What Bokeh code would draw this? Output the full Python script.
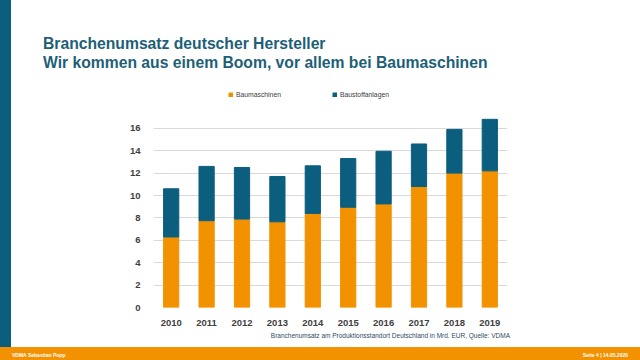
from bokeh.plotting import figure
from bokeh.models import ColumnDataSource, Range1d, FactorRange, Div
from bokeh.layouts import column, row
from bokeh.embed import file_html
from bokeh.resources import INLINE

years = ["2010", "2011", "2012", "2013", "2014", "2015", "2016", "2017", "2018", "2019"]
baumaschinen = [6.3, 7.75, 7.9, 7.65, 8.4, 8.95, 9.25, 10.8, 12.0, 12.2]
baustoffanlagen = [4.3, 4.85, 4.6, 4.05, 4.25, 4.35, 4.7, 3.8, 3.9, 4.6]
series = ["Baumaschinen", "Baustoffanlagen"]
y_ticks = [0, 2, 4, 6, 8, 10, 12, 14, 16]
title_lines = ["Branchenumsatz deutscher Hersteller",
               "Wir kommen aus einem Boom, vor allem bei Baumaschinen"]
source_note = "Branchenumsatz am Produktionsstandort Deutschland in Mrd. EUR, Quelle: VDMA"
footer_left = "VDMA Sebastian Popp"
footer_right = "Seite 4 | 14.05.2020"

ORANGE = "#F39200"
BLUE = "#0B5E7E"
TITLE_C = "#1E5F78"
FONT = "Liberation Sans"
CW = 629  # content width (page x 11..640)

# ---- title (page y 0..80)
title_html = (
    f'<div style="font-family:\'{FONT}\';font-weight:bold;font-size:15.7px;line-height:19px;'
    f'color:{TITLE_C};padding:34px 0 0 32px;margin:0;white-space:nowrap">'
    f'{title_lines[0]}<br>{title_lines[1]}</div>'
)
t = Div(text=title_html, width=CW, height=80, margin=0)

# ---- main chart (page y 80..330)
src = ColumnDataSource(dict(year=years, Baumaschinen=baumaschinen, Baustoffanlagen=baustoffanlagen))
m = figure(width=CW, height=250, x_range=FactorRange(*years), y_range=Range1d(0, 223 / 11.2),
           output_backend="svg", toolbar_location=None, margin=0,
           min_border_left=142, min_border_right=133, min_border_top=4, min_border_bottom=23)
m.outline_line_color = None
m.vbar_stack(series, x="year", width=0.43, color=[ORANGE, BLUE], source=src,
             legend_label=series)
m.xgrid.grid_line_color = None
m.ygrid.grid_line_color = "#D9D9D9"
m.yaxis.ticker = y_ticks
for ax in (m.xaxis[0], m.yaxis[0]):
    ax.axis_line_color = None
    ax.major_tick_line_color = None
    ax.minor_tick_line_color = None
    ax.major_label_text_font = FONT
    ax.major_label_text_font_style = "bold"
    ax.major_label_text_font_size = "9.5px"
    ax.major_label_text_color = "#404040"
m.yaxis.major_label_standoff = 7
m.xaxis.major_label_standoff = 6
m.x_range.range_padding = 0.0

leg = m.legend[0]
leg.orientation = "horizontal"
leg.location = (75, 209)
leg.border_line_color = None
leg.background_fill_alpha = 0
leg.padding = 0
leg.margin = 0
leg.glyph_width = 5
leg.glyph_height = 5
leg.label_height = 8
leg.label_standoff = 3
leg.spacing = 51
leg.label_text_font = FONT
leg.label_text_font_size = "6.8px"
leg.label_text_color = "#404040"

# ---- footer (page y 330..360)
footer_html = (
    f'<div style="font-family:\'{FONT}\';margin:0;padding:0;width:{CW}px">'
    f'<div style="width:499px;text-align:right;font-size:6.5px;line-height:12px;height:12px;'
    f'color:#2E4A66;white-space:nowrap">{source_note}</div>'
    f'<div style="margin-top:5px;width:{CW}px;height:13px;box-sizing:border-box;'
    f'background:{ORANGE};display:flex;justify-content:space-between;align-items:center;'
    f'padding:2px 12px 0 1px;font-size:5px;line-height:8px;font-weight:bold;color:white;'
    f'white-space:nowrap"><span>{footer_left}</span><span>{footer_right}</span></div></div>'
)
f = Div(text=footer_html, width=CW, height=30, margin=0)

strip = column(Div(width=11, height=347, margin=0, styles={"background-color": BLUE}),
               Div(width=11, height=13, margin=0, styles={"background-color": ORANGE}),
               spacing=0, margin=0)
layout = row(strip, column(t, m, f, spacing=0, margin=0), spacing=0, margin=0)

open("out.html", "w").write(file_html(layout, INLINE))
